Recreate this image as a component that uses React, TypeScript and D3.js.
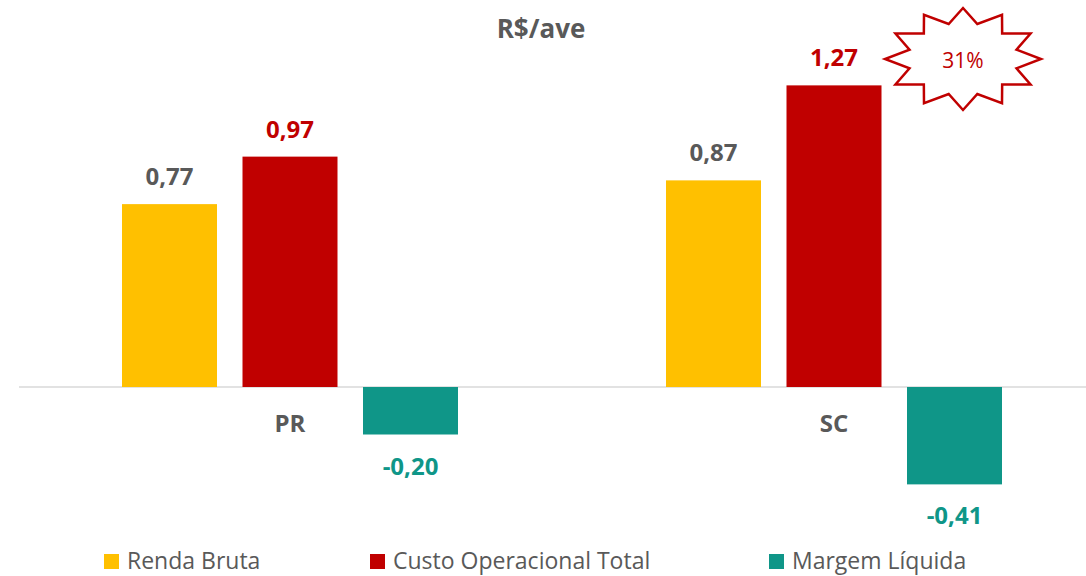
import React from "react";
import * as d3 from "d3";

const categories = ["PR", "SC"];
const seriesNames = ["Renda Bruta", "Custo Operacional Total", "Margem Líquida"];
const rendaBruta = [0.77, 0.87];
const custoOperacional = [0.97, 1.27];
const margemLiquida = [-0.2, -0.41];
const seriesColors = ["#FFC000", "#C00000", "#0F9688"];
const labelColors = ["#595959", "#C00000", "#0F9688"];
const title = "R$/ave";
const annotation = "31%";

const W = 1086;
const H = 576;
const FONT = "'Open Sans', 'Noto Sans', sans-serif";

export default function App() {
  const series = [rendaBruta, custoOperacional, margemLiquida];
  const x0 = d3.scaleBand<string>().domain(categories).range([18, 1106]).paddingInner(0).paddingOuter(0);
  const step = x0.bandwidth();
  const barW = 95;
  const gap = 25.5;
  const groupW = barW * 3 + gap * 2;
  const y = d3.scaleLinear().domain([-0.6, 1.4]).range([387 + 0.6 * 237.5, 387 - 1.4 * 237.5]);
  const fmt = (v: number) => d3.format(".2f")(v).replace(".", ",").replace("−", "-");

  // star
  const cx = 963, cy = 59, rx = 78, ry = 51, inner = 0.71;
  const pts: [number, number][] = [];
  for (let i = 0; i < 24; i++) {
    const a = (i * Math.PI) / 12;
    const r = i % 2 === 0 ? 1 : inner;
    pts.push([cx + Math.sin(a) * rx * r, cy - Math.cos(a) * ry * r]);
  }
  const starPath = d3.line()(pts) + "Z";

  const legendX = [104, 370, 769];

  return (
    <svg width={W} height={H} style={{ position: "absolute", left: 0, top: 0, background: "#fff" }} fontFamily={FONT}>
      <rect width={W} height={H} fill="#fff" />
      <text x={541} y={38} textAnchor="middle" fontSize={26} fontWeight="bold" fill="#595959">{title}</text>
      <line x1={19} x2={W} y1={y(0)} y2={y(0)} stroke="#D9D9D9" strokeWidth={1.5} />
      {categories.map((c, ci) => {
        const gx = (x0(c) as number) + step / 2 - groupW / 2;
        return (
          <g key={c}>
            {series.map((s, si) => {
              const v = s[ci];
              const bx = gx + si * (barW + gap);
              const top = y(Math.max(0, v));
              const h = Math.abs(y(v) - y(0));
              const ly = v >= 0 ? y(v) - 19 : y(v) + 40;
              return (
                <g key={si}>
                  <rect x={bx} y={top} width={barW} height={h} fill={seriesColors[si]} />
                  <text x={bx + barW / 2} y={ly} textAnchor="middle" fontSize={24} fontWeight="bold" fill={labelColors[si]}>{fmt(v)}</text>
                </g>
              );
            })}
            <text x={(x0(c) as number) + step / 2} y={432} textAnchor="middle" fontSize={24} fontWeight="bold" fill="#595959">{c}</text>
          </g>
        );
      })}
      <path d={starPath} fill="#fff" stroke="#C00000" strokeWidth={2.5} strokeLinejoin="miter" />
      <text x={cx} y={68} textAnchor="middle" fontSize={21} fill="#C00000">{annotation}</text>
      {seriesNames.map((n, i) => (
        <g key={n}>
          <rect x={legendX[i]} y={554} width={15} height={15} fill={seriesColors[i]} />
          <text x={legendX[i] + 23} y={569} fontSize={23} fill="#595959">{n}</text>
        </g>
      ))}
    </svg>
  );
}
